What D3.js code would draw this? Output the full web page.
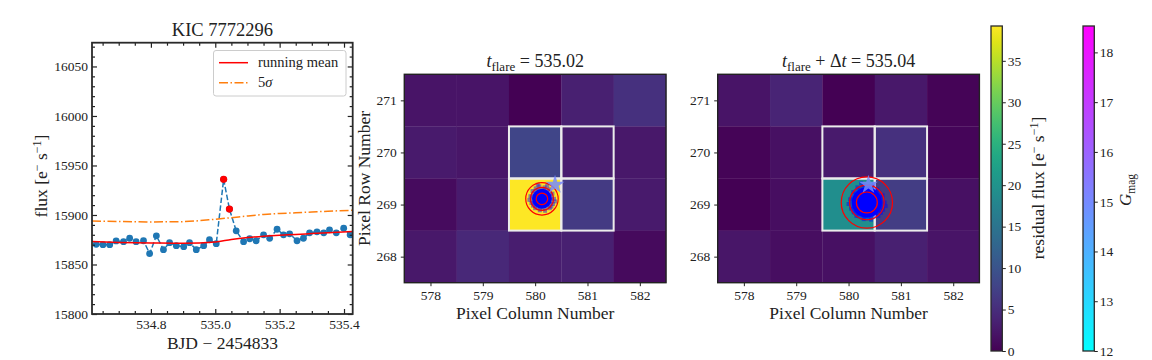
<!DOCTYPE html>
<html>
<head>
<meta charset="utf-8">
<script src="https://cdn.jsdelivr.net/npm/d3@7"></script>
<style>
  body { margin: 0; background: #fff; }
  svg { font-family: "Liberation Serif", "DejaVu Serif", serif; }
  .tick line { stroke: #222; }
  .domain { stroke: none; }
</style>
</head>
<body>
<div id="chart"></div>
<script>
// light curve
var times = [534.630, 534.651, 534.672, 534.692, 534.715, 534.734, 534.754, 534.777, 534.796, 534.817,
  534.839, 534.858, 534.879, 534.902, 534.920, 534.941, 534.964, 534.982, 535.003, 535.026,
  535.044, 535.065, 535.088, 535.107, 535.127, 535.150, 535.169, 535.192, 535.212, 535.231,
  535.254, 535.274, 535.293, 535.316, 535.337, 535.355, 535.376, 535.399, 535.419];
var flux = [15870.4, 15870, 15870, 15873.8, 15873, 15876.5, 15873, 15874, 15861, 15879,
  15865, 15872, 15869, 15868, 15872, 15865, 15869, 15875, 15871, 15936,
  15906, 15884, 15873, 15876, 15874, 15880, 15876.5, 15885.6, 15880, 15881,
  15874, 15876.5, 15882, 15883, 15882, 15885, 15882, 15886.6, 15880];
var flareIdx = [19, 20];

var meanT = [534.617, 534.7, 534.8, 534.9, 535.0, 535.05, 535.1, 535.15, 535.2, 535.25, 535.3, 535.35, 535.427];
var meanF = [15873.1, 15872.3, 15871.8, 15871.4, 15872.8, 15875.3, 15877.2, 15878.6, 15879.6, 15880.3, 15881.2, 15882.1, 15883.2];
var sigF = [15894.0, 15893.4, 15893.0, 15893.3, 15895.7, 15897.3, 15899.0, 15900.5, 15901.5, 15902.2, 15903.0, 15903.8, 15904.8];

// pixel images, rows 271 -> 268, columns 578 -> 582
var cols = [578, 579, 580, 581, 582];
var rows = [271, 270, 269, 268];
var resA = [[2.0, 2.0, 0.0, 3.5, 5.5], [2.7, 2.2, 8.0, 3.1, 2.5], [1.2, 2.9, 39.2, 6.7, 2.7], [2.5, 4.3, 3.1, 3.5, 1.0]];
var resB = [[2.0, 3.9, 0.0, 2.5, 0.4], [0.4, 1.6, 2.7, 5.5, 0.6], [0.0, 1.4, 19.2, 7.0, 1.6], [2.2, 1.4, 1.6, 3.5, 2.0]];
var aperture = [[580, 270], [581, 270], [580, 269], [581, 269]];

// centroid + uncertainty circles
var centA = [580.13, 269.11], centB = [580.35, 269.04];
var ringsA = [0.11, 0.22, 0.31], ringsB = [0.2, 0.33, 0.49];
var coreA = 0.19, coreB = 0.29;
var cloudA = [[-0.22, 0.05], [-0.2, -0.08], [-0.18, 0.15], [-0.12, 0.2], [-0.05, 0.24], [0.05, 0.22], [0.14, 0.18],
  [0.2, 0.1], [0.23, 0.0], [0.21, -0.1], [0.15, -0.18], [0.06, -0.23], [-0.04, -0.22], [-0.13, -0.18],
  [-0.24, -0.02], [0.25, -0.05], [0.1, 0.25], [-0.17, -0.13], [0.18, -0.15], [-0.08, 0.27]];
var cloudB = [[-0.32, 0.06], [-0.3, -0.12], [-0.26, 0.2], [-0.18, 0.29], [-0.06, 0.33], [0.08, 0.31], [0.2, 0.25],
  [0.3, 0.14], [0.34, 0.0], [0.31, -0.14], [0.22, -0.26], [0.08, -0.33], [-0.06, -0.32], [-0.2, -0.26],
  [-0.35, -0.03], [0.36, -0.07], [0.13, 0.35], [-0.25, -0.19], [0.27, -0.2], [-0.11, 0.37]];
var star = [580.38, 269.38], starGmag = 15.0;

var serif = "'Liberation Serif', 'DejaVu Serif', serif";

var svg = d3.select("#chart").append("svg")
  .attr("width", 1152)
  .attr("height", 360);

// ---------- light curve ----------
var x = d3.scaleLinear().domain([534.617, 535.427]).range([92, 352.7]);
var y = d3.scaleLinear().domain([15800, 16074]).range([314, 42.7]);

var lc = svg.append("g");
lc.append("clipPath").attr("id", "lcclip").append("rect")
  .attr("x", 92).attr("y", 42.7).attr("width", 260.7).attr("height", 271.3);

var plot = lc.append("g").attr("clip-path", "url(#lcclip)");

plot.append("path")
  .datum(d3.range(times.length))
  .attr("fill", "none")
  .attr("stroke", "#1f77b4")
  .attr("stroke-width", 1.5)
  .attr("stroke-dasharray", "5.5,2.4")
  .attr("d", d3.line().x(i => x(times[i])).y(i => y(flux[i])));

plot.selectAll("circle.pt")
  .data(d3.range(times.length))
  .enter().append("circle")
  .attr("class", "pt")
  .attr("cx", i => x(times[i]))
  .attr("cy", i => y(flux[i]))
  .attr("r", 3.4)
  .attr("fill", "#1f77b4");

plot.append("path")
  .datum(d3.range(meanT.length))
  .attr("fill", "none")
  .attr("stroke", "#ff0000")
  .attr("stroke-width", 1.5)
  .attr("d", d3.line().curve(d3.curveMonotoneX).x(i => x(meanT[i])).y(i => y(meanF[i])));

plot.append("path")
  .datum(d3.range(meanT.length))
  .attr("fill", "none")
  .attr("stroke", "#ff7f0e")
  .attr("stroke-width", 1.5)
  .attr("stroke-dasharray", "9,2.5,1.5,2.5")
  .attr("d", d3.line().curve(d3.curveMonotoneX).x(i => x(meanT[i])).y(i => y(sigF[i])));

plot.selectAll("circle.fl")
  .data(flareIdx)
  .enter().append("circle")
  .attr("class", "fl")
  .attr("cx", i => x(times[i]))
  .attr("cy", i => y(flux[i]))
  .attr("r", 3.6)
  .attr("fill", "#ff0000");

// axes, ticks pointing in, on all four sides
var xMajor = [534.8, 535.0, 535.2, 535.4];
var xMinor = [534.65, 534.7, 534.75, 534.85, 534.9, 534.95, 535.05, 535.1, 535.15, 535.25, 535.3, 535.35];
var yMajor = [15800, 15850, 15900, 15950, 16000, 16050];
var yMinor = d3.range(15810, 16074, 10).filter(v => v % 50 !== 0);

lc.append("g").attr("transform", "translate(0,314)")
  .call(d3.axisBottom(x).tickValues(xMajor).tickSize(-5).tickPadding(5).tickFormat(d3.format(".1f")));
lc.append("g").attr("transform", "translate(0,314)")
  .call(d3.axisBottom(x).tickValues(xMinor).tickSize(-3).tickFormat(""));
lc.append("g").attr("transform", "translate(0,42.7)")
  .call(d3.axisTop(x).tickValues(xMajor).tickSize(-5).tickFormat(""));
lc.append("g").attr("transform", "translate(0,42.7)")
  .call(d3.axisTop(x).tickValues(xMinor).tickSize(-3).tickFormat(""));
lc.append("g").attr("transform", "translate(92,0)")
  .call(d3.axisLeft(y).tickValues(yMajor).tickSize(-5).tickPadding(4).tickFormat(d3.format("d")));
lc.append("g").attr("transform", "translate(92,0)")
  .call(d3.axisLeft(y).tickValues(yMinor).tickSize(-3).tickFormat(""));
lc.append("g").attr("transform", "translate(352.7,0)")
  .call(d3.axisRight(y).tickValues(yMajor).tickSize(-5).tickFormat(""));
lc.append("g").attr("transform", "translate(352.7,0)")
  .call(d3.axisRight(y).tickValues(yMinor).tickSize(-3).tickFormat(""));
lc.selectAll(".tick line").attr("stroke-width", 1.2);

lc.append("rect")
  .attr("x", 92).attr("y", 42.7).attr("width", 260.7).attr("height", 271.3)
  .attr("fill", "none").attr("stroke", "#2a2a2a").attr("stroke-width", 1.8);

// legend
var leg = lc.append("g");
leg.append("rect")
  .attr("x", 213.5).attr("y", 50.5).attr("width", 132.5).attr("height", 45.5)
  .attr("rx", 2.5).attr("fill", "#fff").attr("fill-opacity", 0.8)
  .attr("stroke", "#cccccc").attr("stroke-width", 1);
leg.append("line").attr("x1", 219).attr("x2", 248).attr("y1", 62.7).attr("y2", 62.7)
  .attr("stroke", "#ff0000").attr("stroke-width", 1.5);
leg.append("line").attr("x1", 219).attr("x2", 248).attr("y1", 82.7).attr("y2", 82.7)
  .attr("stroke", "#ff7f0e").attr("stroke-width", 1.5).attr("stroke-dasharray", "9,2.5,1.5,2.5");
leg.append("text").attr("x", 258).attr("y", 67.3).attr("font-size", 14.5).attr("fill", "#222").text("running mean");
leg.append("text").attr("x", 258).attr("y", 87.3).attr("font-size", 14.5).attr("fill", "#222")
  .append("tspan").text("5").append("tspan").attr("font-style", "italic").text("σ");

lc.append("text").attr("x", 222.4).attr("y", 36).attr("text-anchor", "middle")
  .attr("font-size", 18.5).attr("fill", "#222").text("KIC 7772296");
lc.append("text").attr("x", 222.4).attr("y", 349).attr("text-anchor", "middle")
  .attr("font-size", 17.5).attr("fill", "#222").text("BJD − 2454833");

var yl = lc.append("text").attr("transform", "translate(47,176) rotate(-90)")
  .attr("text-anchor", "middle").attr("font-size", 17.5).attr("fill", "#222");
yl.append("tspan").text("flux [e");
yl.append("tspan").attr("dy", -6).attr("font-size", 12).text("−");
yl.append("tspan").attr("dy", 6).text(" s");
yl.append("tspan").attr("dy", -6).attr("font-size", 12).text("−1");
yl.append("tspan").attr("dy", 6).text("]");

// ---------- pixel images ----------
var vmax = 39.2;
var color = d3.scaleSequential(d3.interpolateViridis).domain([0, vmax]);
var gmin = 12, gmax = 18.53;
var cool = d3.scaleLinear().domain([gmin, gmax]).range(["#00ffff", "#ff00ff"]).interpolate(d3.interpolateRgb);

function drawImage(left, res, cent, rings, core, cloud, titleParts) {
  var px = d3.scaleLinear().domain([577.5, 582.5]).range([left, left + 261.7]);
  var py = d3.scaleLinear().domain([267.5, 271.5]).range([282.7, 74.3]);
  var g = svg.append("g");

  rows.forEach(function(r, ri) {
    cols.forEach(function(c, ci) {
      g.append("rect")
        .attr("x", px(c - 0.5)).attr("y", py(r + 0.5))
        .attr("width", px(c + 0.5) - px(c - 0.5) + 0.3)
        .attr("height", py(r - 0.5) - py(r + 0.5) + 0.3)
        .attr("fill", color(res[ri][ci]));
    });
  });

  g.selectAll("rect.ap")
    .data(aperture)
    .enter().append("rect")
    .attr("class", "ap")
    .attr("x", d => px(d[0] - 0.5)).attr("y", d => py(d[1] + 0.5))
    .attr("width", d => px(d[0] + 0.5) - px(d[0] - 0.5))
    .attr("height", d => py(d[1] - 0.5) - py(d[1] + 0.5))
    .attr("fill", "none").attr("stroke", "#ececec").attr("stroke-width", 2);

  var k = px(1) - px(0);
  g.selectAll("rect.cl")
    .data(cloud)
    .enter().append("rect")
    .attr("class", "cl")
    .attr("x", d => px(cent[0] + d[0]) - 2)
    .attr("y", d => py(cent[1] + d[1]) - 2)
    .attr("width", 4).attr("height", 4)
    .attr("fill", "#0000ff").attr("fill-opacity", 0.45);
  g.append("circle")
    .attr("cx", px(cent[0])).attr("cy", py(cent[1])).attr("r", k * core * 1.2)
    .attr("fill", "#0000ff").attr("fill-opacity", 0.4);
  g.append("circle")
    .attr("cx", px(cent[0])).attr("cy", py(cent[1])).attr("r", k * core)
    .attr("fill", "#0000ff");
  g.selectAll("circle.ring")
    .data(rings)
    .enter().append("circle")
    .attr("class", "ring")
    .attr("cx", px(cent[0])).attr("cy", py(cent[1]))
    .attr("r", d => d * k)
    .attr("fill", "none").attr("stroke", "#ff0000").attr("stroke-width", 1.2);

  g.append("path")
    .attr("d", d3.symbol().type(d3.symbolStar).size(110)())
    .attr("transform", "translate(" + px(star[0]) + "," + py(star[1]) + ")")
    .attr("fill", cool(starGmag)).attr("fill-opacity", 0.85);

  g.append("g").attr("transform", "translate(0,282.7)")
    .call(d3.axisBottom(px).tickValues(cols).tickSize(3.5).tickPadding(4).tickFormat(d3.format("d")));
  g.append("g").attr("transform", "translate(" + left + ",0)")
    .call(d3.axisLeft(py).tickValues(rows).tickSize(3.5).tickPadding(4).tickFormat(d3.format("d")));

  g.append("rect")
    .attr("x", left).attr("y", 74.3).attr("width", 261.7).attr("height", 208.4)
    .attr("fill", "none").attr("stroke", "#222").attr("stroke-width", 1.4);

  g.append("text").attr("x", left + 130.85).attr("y", 319).attr("text-anchor", "middle")
    .attr("font-size", 17.5).attr("fill", "#222").text("Pixel Column Number");

  var t = g.append("text").attr("x", left + 130.85).attr("y", 66.5).attr("text-anchor", "middle")
    .attr("font-size", 18).attr("fill", "#222");
  titleParts(t);
  return g;
}

drawImage(404.3, resA, centA, ringsA, coreA, cloudA, function(t) {
  t.append("tspan").attr("font-style", "italic").text("t");
  t.append("tspan").attr("dy", 4).attr("font-size", 13).text("flare");
  t.append("tspan").attr("dy", -4).text(" = 535.02");
});
drawImage(717.7, resB, centB, ringsB, coreB, cloudB, function(t) {
  t.append("tspan").attr("font-style", "italic").text("t");
  t.append("tspan").attr("dy", 4).attr("font-size", 13).text("flare");
  t.append("tspan").attr("dy", -4).text(" + Δ");
  t.append("tspan").attr("font-style", "italic").text("t");
  t.append("tspan").text(" = 535.04");
});

svg.append("text").attr("transform", "translate(370,178.5) rotate(-90)")
  .attr("text-anchor", "middle").attr("font-size", 17.5).attr("fill", "#222")
  .text("Pixel Row Number");

// ---------- colour bars ----------
var defs = svg.append("defs");
function gradient(id, fn) {
  var gr = defs.append("linearGradient").attr("id", id)
    .attr("x1", 0).attr("y1", 1).attr("x2", 0).attr("y2", 0);
  d3.range(0, 1.0001, 0.05).forEach(function(s) {
    gr.append("stop").attr("offset", s).attr("stop-color", fn(s));
  });
}
gradient("gv", s => color(s * vmax));
gradient("gc", s => cool(gmin + s * (gmax - gmin)));

var resTicks = [0, 5, 10, 15, 20, 25, 30, 35];
var gTicks = [12, 13, 14, 15, 16, 17, 18];

function colorbar(left, grad, dom, ticks) {
  var s = d3.scaleLinear().domain(dom).range([351, 26]);
  var g = svg.append("g");
  g.append("rect").attr("x", left).attr("y", 26).attr("width", 11.3).attr("height", 325)
    .attr("fill", "url(#" + grad + ")").attr("stroke", "#2a2a2a").attr("stroke-width", 1.3);
  g.append("g").attr("transform", "translate(" + (left + 11.3) + ",0)")
    .call(d3.axisRight(s).tickValues(ticks).tickSize(3.5).tickPadding(2).tickFormat(d3.format("d")));
  return g;
}
colorbar(991, "gv", [0, vmax], resTicks);
colorbar(1083, "gc", [gmin, gmax], gTicks);

var rl = svg.append("text").attr("transform", "translate(1044,188) rotate(-90)")
  .attr("text-anchor", "middle").attr("font-size", 17.5).attr("fill", "#222");
rl.append("tspan").text("residual flux [e");
rl.append("tspan").attr("dy", -6).attr("font-size", 12).text("−");
rl.append("tspan").attr("dy", 6).text(" s");
rl.append("tspan").attr("dy", -6).attr("font-size", 12).text("−1");
rl.append("tspan").attr("dy", 6).text("]");

var gl = svg.append("text").attr("transform", "translate(1131,190) rotate(-90)")
  .attr("text-anchor", "middle").attr("font-size", 17).attr("fill", "#222");
gl.append("tspan").attr("font-style", "italic").text("G");
gl.append("tspan").attr("dy", 3.5).attr("font-size", 11.5).text("mag");

// d3 axes put a sans-serif font on their groups; use the serif face everywhere
svg.selectAll("g[font-family]").attr("font-family", serif).attr("font-size", 13.5);
svg.selectAll(".tick text").attr("fill", "#222");
</script>
</body>
</html>
